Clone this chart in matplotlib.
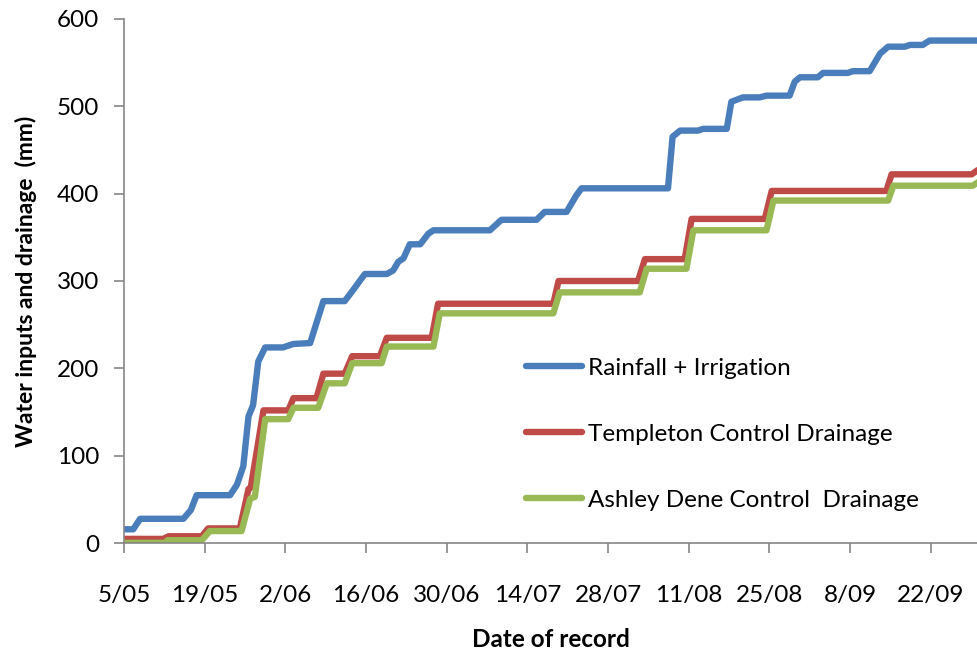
"""
Cumulative water inputs (rainfall + irrigation) and control-plot drainage
at Templeton and Ashley Dene, 5 May to end of September.
"""

import matplotlib
matplotlib.use("Agg")
import matplotlib.pyplot as plt


# ===================
#  DATA  (days since 5/05, cumulative mm)
# ===================

tick_days   = [0, 14, 28, 42, 56, 70, 84, 98, 112, 126, 140]
tick_labels = ["5/05", "19/05", "2/06", "16/06", "30/06", "14/07",
               "28/07", "11/08", "25/08", "8/09", "22/09"]

rain_days = [0, 1.6, 2.8, 10.3, 11.6, 12.6, 18.4, 19.6, 20.7, 21.6, 22.4,
             23.3, 24.5, 27.6, 29.4, 32.3, 34.6, 38.3, 39.8, 40.9, 41.8,
             45.6, 46.7, 47.6, 48.5, 49.6, 51.4, 52.8, 53.7, 63.5, 65.5,
             71.6, 73.0, 76.8, 78.5, 79.4, 94.4, 95.2, 96.5, 99.6, 100.5,
             104.6, 105.4, 107.4, 110.3, 111.5, 115.5, 116.4, 117.3, 120.4,
             121.3, 125.6, 126.5, 129.4, 131.2, 132.6, 135.5, 136.4, 138.6,
             139.8, 148.2]
rain_mm   = [16, 16, 28, 28, 38, 55, 55, 67, 88, 145, 158,
             208, 224, 224, 228, 229, 277, 277, 290, 300, 308,
             308, 312, 322, 326, 342, 342, 354, 358, 358, 370,
             370, 379, 379, 398, 406, 406, 465, 472, 472, 474,
             474, 505, 510, 510, 512, 512, 528, 533, 533,
             538, 538, 540, 540, 560, 568, 568, 570, 570,
             575, 575]

templeton_days = [0, 6.8, 7.7, 13.5, 14.6, 20.1, 21.6, 22.0, 24.2, 28.5,
                  29.4, 33.4, 34.6, 38.3, 39.6, 44.4, 45.6, 53.4, 54.5,
                  74.5, 75.4, 89.2, 90.4, 97.3, 98.5, 111.2, 112.4, 132.3,
                  133.2, 147.1, 148.2]
templeton_mm   = [5, 5, 8, 8, 17, 17, 62, 64, 152, 152,
                  166, 166, 194, 194, 214, 214, 235, 235, 274,
                  274, 300, 300, 325, 325, 371, 371, 403, 403,
                  422, 422, 427]

ashley_days = [0, 7.1, 7.6, 13.5, 14.9, 20.4, 21.9, 22.7, 24.5, 28.5,
               29.4, 33.7, 35.2, 38.3, 39.6, 44.7, 45.6, 53.7, 54.8,
               74.5, 75.6, 89.5, 90.7, 97.6, 98.8, 111.5, 112.7, 132.6,
               133.5, 147.3, 148.2]
ashley_mm   = [0.5, 0.5, 3.5, 3.5, 14, 14, 51, 53, 142, 142,
               155, 155, 183, 183, 206, 206, 225, 225, 263,
               263, 287, 287, 314, 314, 358, 358, 392, 392,
               409, 409, 413]


# ===================
#  PLOTTING
# ===================

BLUE  = "#4A7EBB"
RED   = "#BE4B48"
GREEN = "#98B954"
GREY  = "#868686"
FONT  = "Lato"

fig = plt.figure(figsize=(9.78, 6.54), dpi=100)
ax = fig.add_axes([0.1268, 0.1693, 0.8732, 0.8021])

line_kw = dict(linewidth=4.6, solid_joinstyle="round", solid_capstyle="round")
ax.plot(rain_days, rain_mm, color=BLUE, label="Rainfall + Irrigation", **line_kw)
ax.plot(templeton_days, templeton_mm, color=RED,
        label="Templeton Control Drainage", **line_kw)
ax.plot(ashley_days, ashley_mm, color=GREEN,
        label="Ashley Dene Control  Drainage", **line_kw)

ax.set_xlim(0, 148.2)
ax.set_ylim(0, 600)
ax.set_xticks(tick_days)
ax.set_xticklabels(tick_labels)
ax.set_yticks(range(0, 601, 100))

for side in ("top", "right"):
    ax.spines[side].set_visible(False)
for side in ("left", "bottom"):
    ax.spines[side].set_color(GREY)
    ax.spines[side].set_linewidth(1.2)

ax.tick_params(axis="both", direction="out", length=7, width=1.2,
               color=GREY, labelsize=17.5)
ax.tick_params(axis="x", pad=23)
ax.tick_params(axis="y", pad=11)
for lab in ax.get_xticklabels() + ax.get_yticklabels():
    lab.set_fontfamily(FONT)

ax.set_ylabel("Water inputs and drainage  (mm)", fontsize=16.5,
              fontweight="bold", family=FONT, labelpad=14)
ax.set_xlabel("Date of record", fontsize=17.5, fontweight="bold",
              family=FONT, labelpad=16)

# legend sits inside the plot, rows centred near 370 / 434 / 499 px
leg = ax.legend(loc="center left", bbox_to_anchor=(0.4705, 0.2078),
                frameon=False, borderpad=0, borderaxespad=0,
                handlelength=2.3, handletextpad=0.25, labelspacing=1.85,
                prop={"family": FONT, "size": 17.5})

fig.savefig("out.png", dpi=100)
